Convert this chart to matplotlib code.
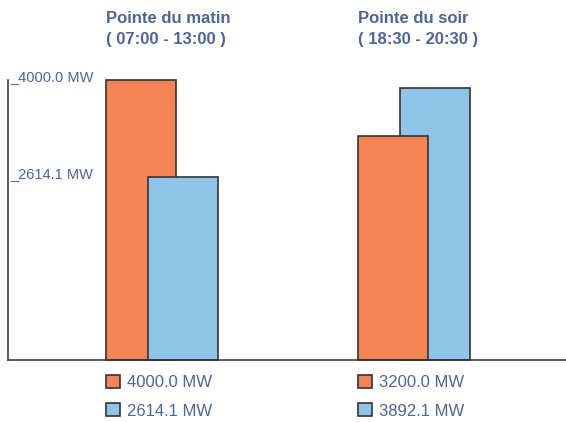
import numpy as np
import matplotlib
matplotlib.use("Agg")
import matplotlib.pyplot as plt
from matplotlib.patches import Patch
from matplotlib.legend import Legend
from matplotlib.transforms import blended_transform_factory

# data
groups = ["Pointe du matin\n( 07:00 - 13:00 )", "Pointe du soir\n( 18:30 - 20:30 )"]
orange_vals = [4000.0, 3200.0]
blue_vals = [2614.1, 3892.1]
tick_vals = [4000.0, 2614.1]

ORANGE = "#f58553"
BLUE = "#8dc4e8"
EDGE = "#333333"
TEXT = "#4b6598"

plt.rcParams["font.family"] = ["Liberation Sans", "DejaVu Sans"]

W, H = 566, 422
fig = plt.figure(figsize=(W / 100, H / 100), dpi=100)
# axes: left line at x=8px, baseline at y=360px, top (4000) at y=80px
ax = fig.add_axes([8 / W, (H - 360) / H, 1 - 8 / W, 280 / H])

x = np.arange(len(groups))
width = 70 / 252
off = 21 / 252

for i in x:
    o, b = orange_vals[i], blue_vals[i]
    # taller bar is behind
    zo, zb = (1, 2) if o >= b else (2, 1)
    ax.bar(i - off, o, width, color=ORANGE, edgecolor=EDGE, linewidth=1.2, zorder=zo, clip_on=False)
    ax.bar(i + off, b, width, color=BLUE, edgecolor=EDGE, linewidth=1.2, zorder=zb, clip_on=False)

ax.set_xlim(-154 / 252, 558 / 252 - 154 / 252)
ax.set_ylim(0, 4000)

for s in ["top", "right"]:
    ax.spines[s].set_visible(False)
ax.spines["left"].set_color(EDGE)
ax.spines["bottom"].set_color(EDGE)
ax.spines["left"].set_linewidth(1.1)
ax.spines["bottom"].set_linewidth(1.1)
ax.set_xticks([])
ax.set_yticks([])

tr = blended_transform_factory(ax.transAxes, ax.transData)
for v in tick_vals:
    ax.text(2 / 558, v - 15, "_%.1f MW" % v, transform=tr, ha="left", va="baseline",
            fontsize=10.5, color=TEXT)

# group titles
trx = blended_transform_factory(ax.transData, ax.transAxes)
for i, g in enumerate(groups):
    ax.text(i - off - width / 2, 1 + 69 / 280, g, transform=trx, ha="left", va="top",
            fontsize=12, fontweight="bold", color=TEXT, linespacing=1.46, clip_on=False)

# legends under each group
for i in x:
    handles = [Patch(facecolor=ORANGE, edgecolor=EDGE, linewidth=1.2),
               Patch(facecolor=BLUE, edgecolor=EDGE, linewidth=1.2)]
    labels = ["%.1f MW" % orange_vals[i], "%.1f MW" % blue_vals[i]]
    leg = Legend(ax, handles, labels, loc="upper left",
                 bbox_to_anchor=(i - off - width / 2, -15 / 280), bbox_transform=trx,
                 frameon=False, fontsize=12, handlelength=0.85, handleheight=0.85,
                 handletextpad=0.4, labelspacing=0.76, borderpad=0, borderaxespad=0)
    for t in leg.get_texts():
        t.set_color(TEXT)
    ax.add_artist(leg)

fig.savefig("out.png", dpi=100)
